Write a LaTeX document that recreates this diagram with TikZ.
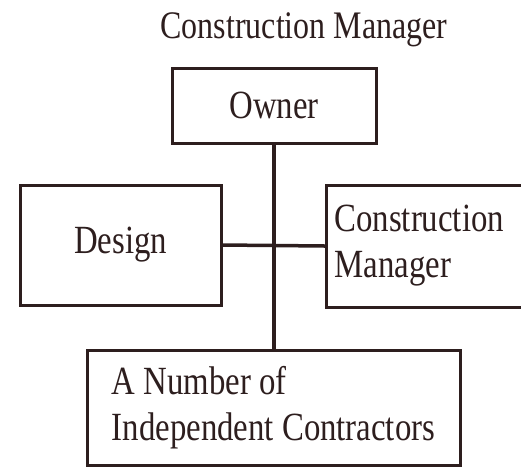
\documentclass[tikz,border=0pt]{standalone}
\usepackage{fontspec}
\setmainfont{Liberation Serif}[FakeStretch=0.82]
\usepackage{tikz}
\usetikzlibrary{positioning}
\definecolor{inkbrown}{RGB}{45,30,30}
\tikzset{org box/.style={draw, line width=3pt, inner sep=0pt,
    font=\fontsize{40}{46}\selectfont}}
\tikzset{org line/.style={draw, line width=3.5pt}}

\begin{document}
\begin{tikzpicture}[x=1pt, y=-1pt, color=inkbrown]
  \useasboundingbox (0,0) rectangle (521,467);

  \node[font=\fontsize{39}{45}\selectfont] (title) at (304,30) {Construction Manager};

  \node[org box, minimum width=204pt, minimum height=75pt] (owner) at (274,105.5) {Owner};
  \node[org box, minimum width=201pt, minimum height=120pt] (design) at (120.5,245) {Design};
  \node[org box, anchor=west, text width=200pt, inner xsep=8pt,
    minimum height=122pt, align=left] (cm) at (325,246) {Construction\\Manager};
  \node[org box, minimum width=373pt, minimum height=115pt,
    align=left] (contractors) at (273.5,407.5) {A Number of\\Independent Contractors};

  \draw[org line] (owner.south) -- (owner.south |- contractors.north);
  \draw[org line] (design.east) -- (cm.west);
\end{tikzpicture}
\end{document}
